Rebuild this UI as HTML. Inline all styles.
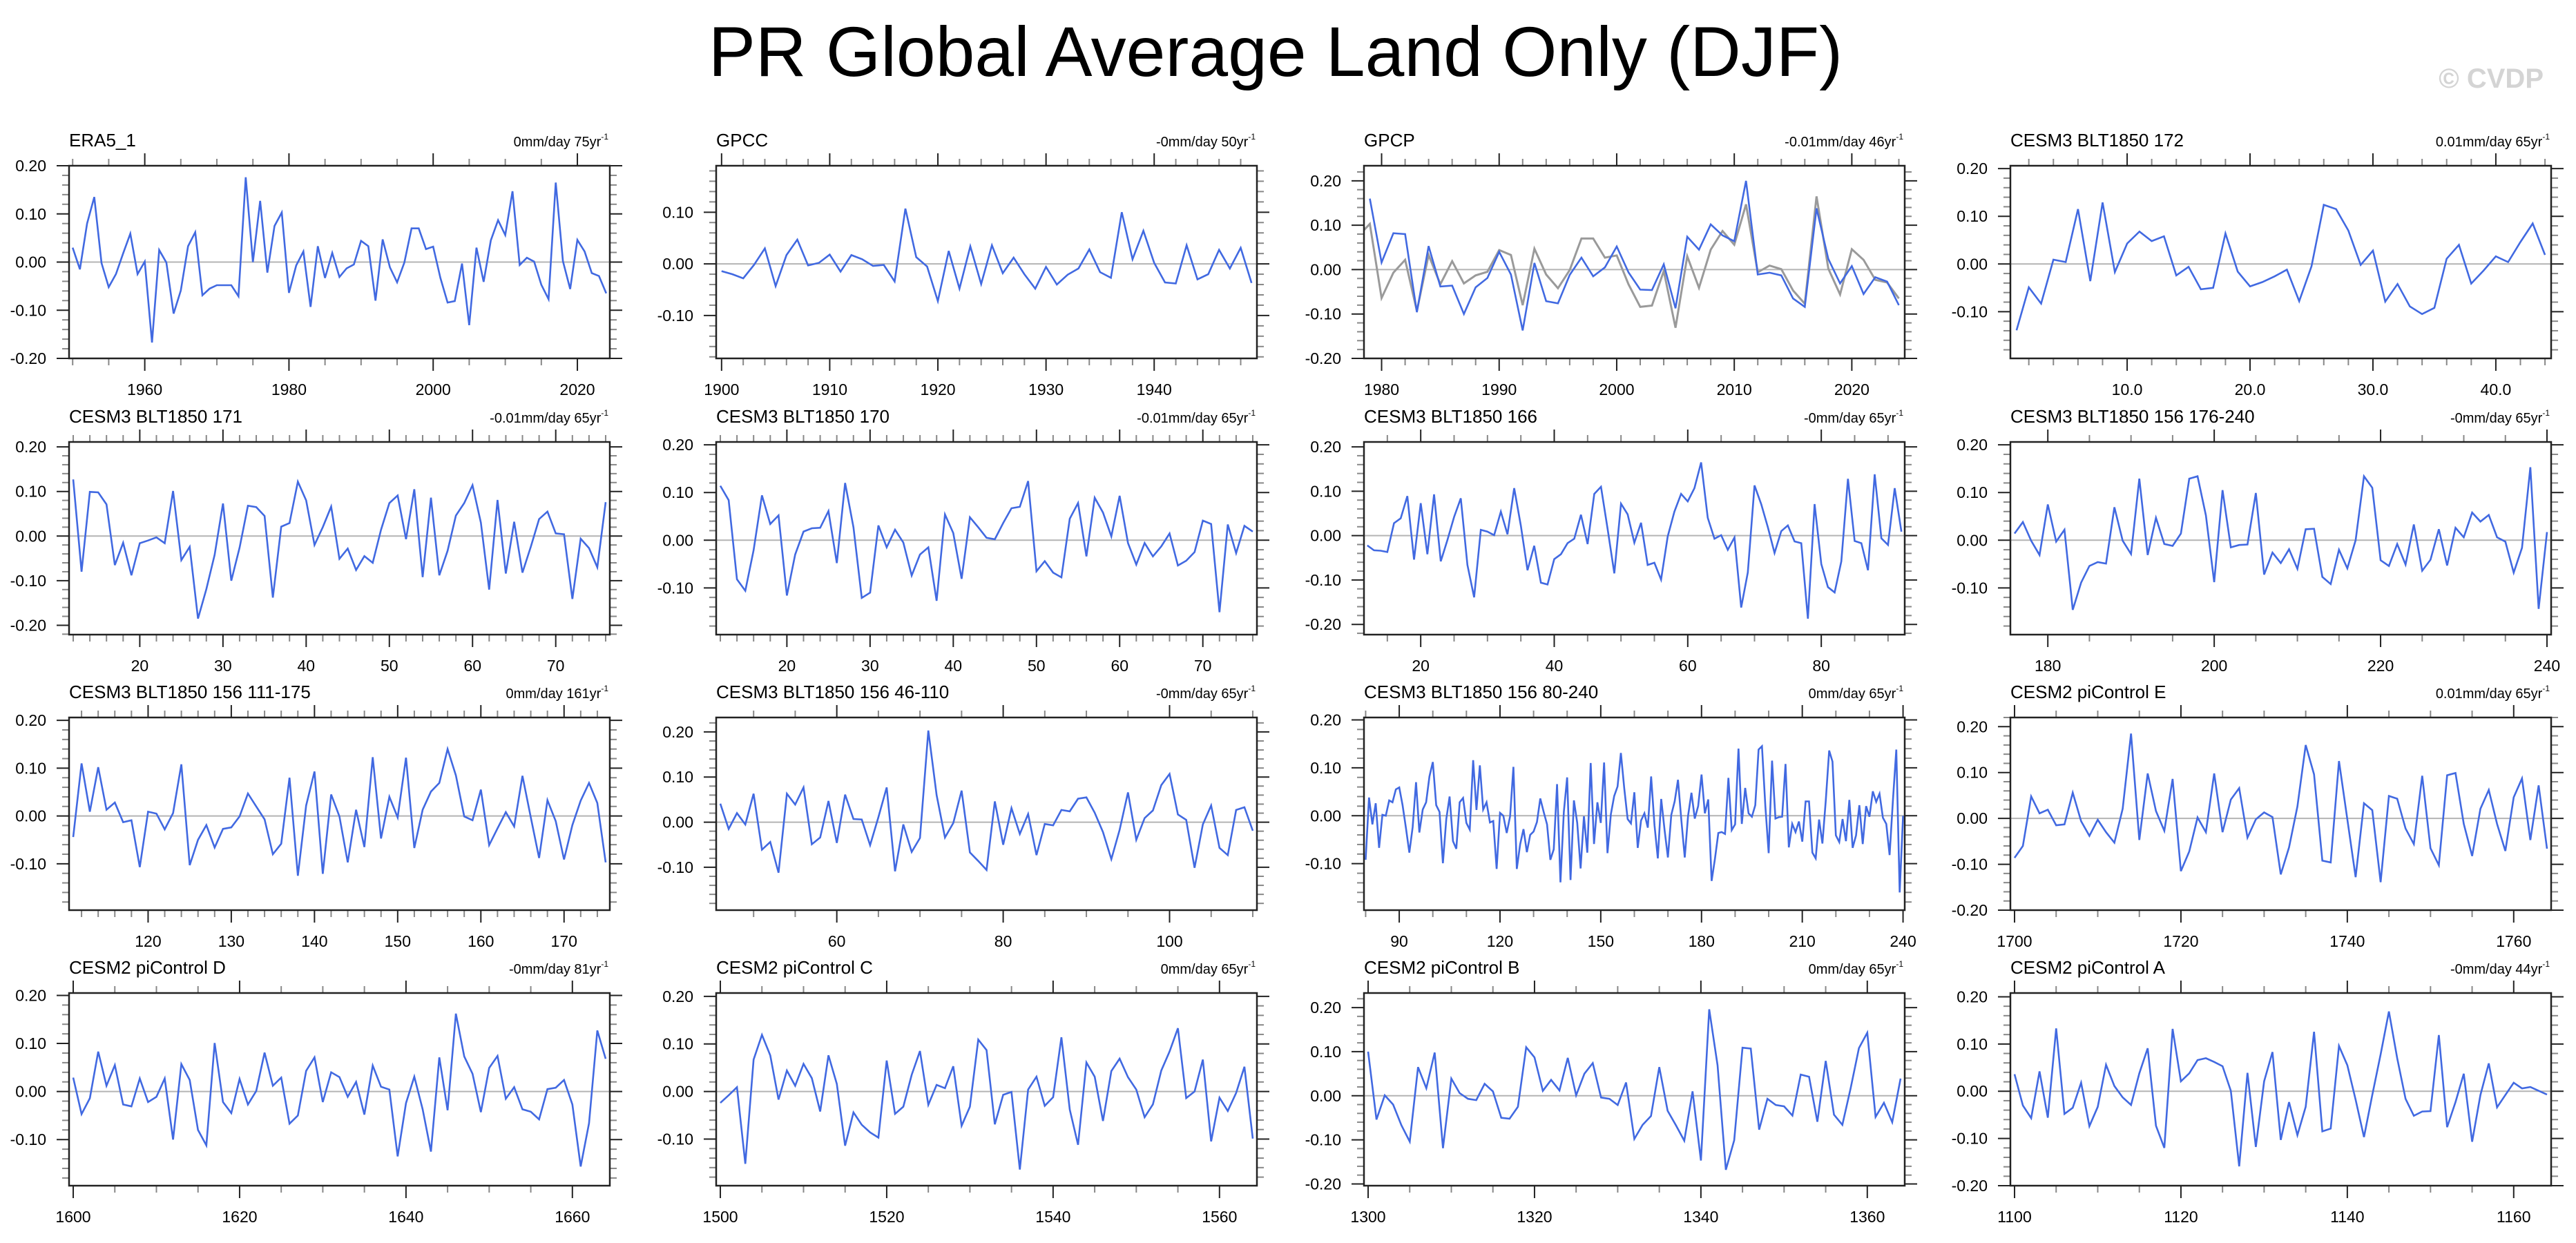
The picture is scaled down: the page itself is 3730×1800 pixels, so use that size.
<!DOCTYPE html>
<html><head><meta charset="utf-8"><title>PR Global Average Land Only (DJF)</title>
<style>
html,body{margin:0;padding:0;background:#fff;}
svg{display:block;font-family:"Liberation Sans",Arial,sans-serif;}
</style></head>
<body>
<svg id="chart" xmlns="http://www.w3.org/2000/svg" width="3730" height="1800" viewBox="0 0 3730 1800">
<rect x="0" y="0" width="3730" height="1800" fill="#fff"/>
<text x="1847" y="110" font-size="102" text-anchor="middle" fill="#000">PR Global Average Land Only (DJF)</text>
<text x="3683" y="127" font-size="40" font-weight="bold" text-anchor="end" fill="#d4d4d4">© CVDP</text>
<g id="panels"></g>
</svg>
<script>
// ---- data ----
const era5Start = 1950;
const era5Values = [0.03,-0.015,0.08,0.135,-0.002,-0.052,-0.025,0.018,0.059,-0.025,0.001,-0.167,0.025,-0.001,-0.107,-0.059,0.033,0.062,-0.069,-0.055,-0.048,-0.048,-0.048,-0.071,0.176,0,0.127,-0.022,0.075,0.103,-0.064,-0.007,0.022,-0.093,0.033,-0.033,0.019,-0.031,-0.013,-0.005,0.044,0.033,-0.08,0.047,-0.011,-0.042,-0.001,0.07,0.07,0.027,0.032,-0.033,-0.084,-0.081,-0.003,-0.131,0.03,-0.041,0.045,0.087,0.056,0.147,-0.006,0.009,0.001,-0.047,-0.077,0.165,0.002,-0.056,0.046,0.022,-0.023,-0.029,-0.065];
const gpccStart = 1900;
const gpccValues = [-0.014,-0.02,-0.028,-0.002,0.03,-0.043,0.017,0.047,-0.003,0.002,0.018,-0.015,0.017,0.009,-0.004,-0.002,-0.034,0.107,0.013,-0.005,-0.072,0.025,-0.048,0.034,-0.039,0.036,-0.018,0.012,-0.02,-0.048,-0.006,-0.04,-0.021,-0.009,0.028,-0.016,-0.027,0.1,0.009,0.064,0.002,-0.036,-0.038,0.036,-0.03,-0.02,0.027,-0.009,0.031,-0.037];
const gpcpStart = 1979;
const gpcpValues = [0.16,0.016,0.082,0.08,-0.096,0.053,-0.038,-0.036,-0.1,-0.04,-0.019,0.04,-0.011,-0.137,0.015,-0.071,-0.076,-0.012,0.027,-0.015,0.005,0.052,-0.006,-0.045,-0.046,0.012,-0.087,0.074,0.045,0.102,0.077,0.064,0.2,-0.011,-0.007,-0.013,-0.065,-0.084,0.138,0.024,-0.031,0.008,-0.055,-0.017,-0.027,-0.08];
const c172Start = 1;
const c172Values = [-0.139,-0.049,-0.083,0.009,0.004,0.115,-0.036,0.129,-0.017,0.043,0.068,0.048,0.058,-0.024,-0.006,-0.053,-0.05,0.064,-0.016,-0.047,-0.038,-0.026,-0.012,-0.078,-0.005,0.124,0.115,0.07,-0.002,0.028,-0.079,-0.042,-0.089,-0.105,-0.092,0.011,0.04,-0.041,-0.014,0.016,0.004,0.046,0.085,0.019];
const c171Start = 12;
const c171Values = [0.127,-0.08,0.099,0.098,0.071,-0.065,-0.015,-0.088,-0.016,-0.01,-0.003,-0.016,0.101,-0.054,-0.024,-0.185,-0.119,-0.042,0.073,-0.1,-0.026,0.068,0.065,0.045,-0.138,0.021,0.029,0.122,0.08,-0.02,0.02,0.066,-0.051,-0.028,-0.076,-0.045,-0.06,0.014,0.074,0.091,-0.007,0.105,-0.092,0.086,-0.088,-0.033,0.046,0.074,0.114,0.03,-0.12,0.081,-0.084,0.032,-0.082,-0.024,0.038,0.055,0.006,0.004,-0.141,-0.006,-0.027,-0.07,0.076];
const c170Start = 12;
const c170Values = [0.114,0.084,-0.082,-0.106,-0.021,0.094,0.034,0.052,-0.116,-0.03,0.018,0.025,0.026,0.061,-0.048,0.12,0.027,-0.121,-0.11,0.031,-0.015,0.022,-0.005,-0.074,-0.03,-0.015,-0.127,0.054,0.015,-0.081,0.048,0.027,0.005,0.002,0.036,0.067,0.07,0.124,-0.065,-0.044,-0.068,-0.078,0.045,0.078,-0.034,0.089,0.058,0.008,0.093,-0.006,-0.051,-0.006,-0.034,-0.013,0.014,-0.053,-0.043,-0.025,0.041,0.034,-0.151,0.033,-0.027,0.03,0.018];
const c166Start = 12;
const c166Values = [-0.022,-0.033,-0.034,-0.037,0.028,0.039,0.089,-0.054,0.073,-0.042,0.093,-0.058,-0.01,0.042,0.084,-0.066,-0.139,0.013,0.009,0.001,0.054,0.003,0.107,0.022,-0.078,-0.023,-0.106,-0.11,-0.053,-0.042,-0.017,-0.007,0.047,-0.019,0.094,0.11,0.015,-0.085,0.072,0.048,-0.016,0.029,-0.066,-0.061,-0.099,-0.002,0.054,0.094,0.077,0.107,0.165,0.04,-0.007,0.001,-0.032,-0.004,-0.162,-0.083,0.113,0.071,0.019,-0.039,0.01,0.023,-0.013,-0.017,-0.187,0.071,-0.064,-0.116,-0.128,-0.058,0.128,-0.012,-0.017,-0.078,0.138,-0.006,-0.021,0.107,0.009];
const c156aStart = 176;
const c156aValues = [0.014,0.038,-0.001,-0.031,0.075,-0.003,0.022,-0.146,-0.089,-0.054,-0.046,-0.049,0.069,-0.001,-0.029,0.129,-0.031,0.047,-0.008,-0.012,0.014,0.129,0.134,0.052,-0.088,0.105,-0.015,-0.01,-0.009,0.099,-0.072,-0.026,-0.048,-0.019,-0.06,0.023,0.024,-0.077,-0.092,-0.02,-0.059,0,0.134,0.11,-0.042,-0.054,-0.008,-0.051,0.033,-0.064,-0.041,0.023,-0.053,0.026,0.006,0.058,0.039,0.053,0.006,-0.003,-0.068,-0.016,0.153,-0.144,0.017];
const c156bStart = 111;
const c156bValues = [-0.044,0.11,0.009,0.102,0.013,0.028,-0.013,-0.009,-0.107,0.009,0.005,-0.028,0.006,0.108,-0.103,-0.05,-0.019,-0.066,-0.027,-0.024,-0.001,0.047,0.02,-0.007,-0.08,-0.058,0.08,-0.125,0.022,0.093,-0.121,0.045,-0.001,-0.097,0.013,-0.065,0.123,-0.047,0.04,-0.003,0.122,-0.067,0.013,0.051,0.069,0.14,0.085,-0.001,-0.009,0.055,-0.061,-0.026,0.008,-0.022,0.084,-0.003,-0.088,0.033,-0.011,-0.091,-0.019,0.032,0.069,0.027,-0.097];
const c156cStart = 46;
const c156cValues = [0.041,-0.015,0.02,-0.005,0.063,-0.061,-0.044,-0.112,0.063,0.039,0.077,-0.049,-0.034,0.047,-0.046,0.061,0.007,0.006,-0.051,0.011,0.077,-0.109,-0.005,-0.066,-0.035,0.203,0.06,-0.034,-0.002,0.07,-0.067,-0.086,-0.106,0.046,-0.05,0.031,-0.026,0.018,-0.073,-0.004,-0.007,0.027,0.024,0.052,0.055,0.021,-0.022,-0.082,-0.017,0.066,-0.039,0.009,0.026,0.082,0.107,0.017,0.005,-0.101,-0.005,0.037,-0.057,-0.073,0.027,0.033,-0.019];
const c156dStart = 80;
const c156dValues = [-0.092,0.038,-0.018,0.026,-0.067,0.002,0,0.032,0.028,0.055,0.059,0.022,-0.026,-0.077,-0.024,0.07,-0.035,0.013,0.028,0.082,0.112,0.022,0.008,-0.099,-0.007,0.04,-0.053,-0.069,0.028,0.037,-0.015,-0.029,0.116,0.012,0.105,0.013,0.028,-0.014,-0.011,-0.111,0.006,0,-0.036,-0.001,0.102,-0.111,-0.06,-0.028,-0.076,-0.04,-0.033,-0.013,0.036,0.008,-0.018,-0.092,-0.07,0.066,-0.139,0.008,0.08,-0.134,0.032,-0.015,-0.11,-0.001,-0.077,0.11,-0.059,0.028,-0.015,0.111,-0.078,0.003,0.041,0.061,0.131,0.057,-0.007,-0.016,0.049,
 -0.067,-0.01,0.005,-0.025,0.082,-0.02,-0.089,0.035,-0.03,-0.087,0.002,0.03,0.075,-0.01,-0.087,0.0,0.048,-0.006,0.02,0.086,0.005,0.034,-0.136,-0.09,-0.036,-0.034,-0.038,0.079,-0.03,-0.018,0.14,-0.017,0.058,0.005,-0.002,0.022,0.138,0.145,0.02,-0.078,0.115,-0.006,-0.003,-0.002,0.108,-0.066,-0.017,-0.034,-0.012,-0.054,0.03,0.03,-0.077,-0.089,-0.008,-0.058,0.032,0.136,0.113,-0.041,-0.055,-0.007,-0.053,0.033,-0.067,-0.041,0.022,-0.059,0.02,-0.002,0.051,0.029,0.046,-0.004,-0.017,-0.082,0.034,0.138,-0.16,0.0];
const pcEStart = 1700;
const pcEValues = [-0.086,-0.06,0.048,0.011,0.019,-0.015,-0.013,0.056,-0.006,-0.038,-0.003,-0.03,-0.053,0.021,0.185,-0.047,0.098,0.016,-0.027,0.086,-0.115,-0.072,0.002,-0.03,0.098,-0.03,0.041,0.066,-0.042,-0.002,0.013,0.003,-0.122,-0.063,0.026,0.16,0.096,-0.092,-0.096,0.125,-0.002,-0.128,0.033,0.018,-0.139,0.049,0.043,-0.022,-0.056,0.093,-0.065,-0.102,0.094,0.099,-0.012,-0.082,0.021,0.062,-0.012,-0.071,0.046,0.087,-0.047,0.072,-0.066];
const pcDStart = 1600;
const pcDValues = [0.029,-0.047,-0.014,0.083,0.012,0.055,-0.027,-0.031,0.027,-0.022,-0.011,0.027,-0.1,0.057,0.024,-0.08,-0.112,0.101,-0.022,-0.045,0.026,-0.027,0.001,0.081,0.012,0.029,-0.067,-0.05,0.043,0.071,-0.022,0.04,0.03,-0.011,0.02,-0.048,0.054,0.01,0.004,-0.135,-0.024,0.031,-0.037,-0.125,0.071,-0.039,0.162,0.073,0.037,-0.043,0.049,0.074,-0.015,0.009,-0.037,-0.042,-0.058,0.005,0.008,0.024,-0.027,-0.156,-0.066,0.127,0.068];
const pcCStart = 1500;
const pcCValues = [-0.024,-0.008,0.009,-0.152,0.067,0.119,0.076,-0.017,0.044,0.012,0.058,0.028,-0.042,0.076,0.016,-0.114,-0.044,-0.07,-0.086,-0.097,0.065,-0.047,-0.032,0.035,0.085,-0.028,0.014,0.007,0.053,-0.072,-0.032,0.109,0.087,-0.069,-0.007,-0.001,-0.164,0.004,0.031,-0.03,-0.012,0.114,-0.038,-0.112,0.061,0.031,-0.062,0.043,0.069,0.03,0.004,-0.054,-0.027,0.044,0.084,0.133,-0.014,0,0.067,-0.105,-0.013,-0.041,-0.003,0.052,-0.099];
const pcBStart = 1300;
const pcBValues = [0.1,-0.054,0.001,-0.02,-0.067,-0.104,0.065,0.017,0.098,-0.119,0.039,0.006,-0.007,-0.01,0.027,0.01,-0.05,-0.052,-0.025,0.11,0.087,0.011,0.036,0.012,0.086,0.001,0.05,0.074,-0.004,-0.007,-0.021,0.03,-0.098,-0.066,-0.046,0.065,-0.034,-0.067,-0.102,0.01,-0.147,0.196,0.069,-0.168,-0.101,0.109,0.107,-0.077,-0.007,-0.021,-0.024,-0.045,0.048,0.043,-0.059,0.079,-0.043,-0.066,0.017,0.108,0.143,-0.048,-0.016,-0.06,0.039];
const pcAStart = 1100;
const pcAValues = [0.036,-0.03,-0.057,0.042,-0.056,0.133,-0.048,-0.035,0.018,-0.074,-0.033,0.056,0.011,-0.013,-0.029,0.038,0.091,-0.073,-0.12,0.132,0.021,0.038,0.066,0.07,0.062,0.053,0.001,-0.159,0.039,-0.118,0.021,0.083,-0.103,-0.023,-0.093,-0.033,0.126,-0.085,-0.079,0.096,0.055,-0.018,-0.097,-0.008,0.078,0.169,0.07,-0.016,-0.052,-0.043,-0.042,0.119,-0.076,-0.023,0.037,-0.107,-0.008,0.059,-0.034,-0.008,0.018,0.006,0.009,0.001,-0.007];

// panel titles / subtitles / axis info
const panelTitles = ["ERA5_1","GPCC","GPCP","CESM3 BLT1850 172","CESM3 BLT1850 171","CESM3 BLT1850 170","CESM3 BLT1850 166","CESM3 BLT1850 156 176-240","CESM3 BLT1850 156 111-175","CESM3 BLT1850 156 46-110","CESM3 BLT1850 156 80-240","CESM2 piControl E","CESM2 piControl D","CESM2 piControl C","CESM2 piControl B","CESM2 piControl A"];
const trendLabels = ["0mm/day 75yr","-0mm/day 50yr","-0.01mm/day 46yr","0.01mm/day 65yr","-0.01mm/day 65yr","-0.01mm/day 65yr","-0mm/day 65yr","-0mm/day 65yr","0mm/day 161yr","-0mm/day 65yr","0mm/day 65yr","0.01mm/day 65yr","-0mm/day 81yr","0mm/day 65yr","0mm/day 65yr","-0mm/day 44yr"];
const seriesStarts = [era5Start,gpccStart,gpcpStart,c172Start,c171Start,c170Start,c166Start,c156aStart,c156bStart,c156cStart,c156dStart,pcEStart,pcDStart,pcCStart,pcBStart,pcAStart];
const seriesValues = [era5Values,gpccValues,gpcpValues,c172Values,c171Values,c170Values,c166Values,c156aValues,c156bValues,c156cValues,c156dValues,pcEValues,pcDValues,pcCValues,pcBValues,pcAValues];
const yMins = [-0.2,-0.183,-0.2,-0.198,-0.221,-0.198,-0.223,-0.198,-0.197,-0.195,-0.197,-0.2,-0.196,-0.198,-0.204,-0.2];
const yMaxs = [0.2,0.19,0.234,0.206,0.211,0.206,0.211,0.206,0.206,0.232,0.205,0.22,0.205,0.207,0.233,0.208];
const xMajorSteps = [20,10,10,10,10,10,20,20,10,20,30,20,20,20,20,20];
const xMinorSteps = [5,2,2,2,2,2,5,5,2,5,10,5,5,5,5,5];
const xLabelDecimals = [0,0,0,1,0,0,0,0,0,0,0,0,0,0,0,0];

// ---- layout ----
const NS = "http://www.w3.org/2000/svg";
const colX = [100,1037,1975,2911];
const rowY = [240,640,1039,1438];
const BW = 783, BH = 279;
const BLUE = "#4169e1";
const root = document.getElementById("panels");

function el(tag, attrs, parent){
  const e = document.createElementNS(NS, tag);
  for (const k in attrs) e.setAttribute(k, attrs[k]);
  parent.appendChild(e);
  return e;
}

function drawPanel(i){
  const col = i % 4, row = Math.floor(i / 4);
  const x0 = colX[col], y0 = rowY[row];
  const vals = seriesValues[i], start = seriesStarts[i];
  const xmin = start - 0.5, xmax = start + vals.length - 1 + 0.5;
  const ymin = yMins[i], ymax = yMaxs[i];
  const sx = v => x0 + (v - xmin) / (xmax - xmin) * BW;
  const sy = v => y0 + (ymax - v) / (ymax - ymin) * BH;

  const g = el("g", {}, root);
  
  

  const clipId = "clip" + i;
  const cp = el("clipPath", {id: clipId}, g);
  el("rect", {x: x0, y: y0, width: BW, height: BH}, cp);

  // y ticks
  const yt = el("g", {stroke: "#333", "stroke-width": 2}, g);
  
  
  for (let k = Math.ceil(ymin / 0.02 - 1e-6); k * 0.02 <= ymax + 1e-9; k++) {
    const v = k * 0.02, y = sy(v);
    const major = (k % 5 === 0);
    const len = major ? 18 : 10;
    el("line", {x1: x0 - len, y1: y, x2: x0, y2: y, stroke: major ? "#222" : "#888"}, yt);
    el("line", {x1: x0 + BW, y1: y, x2: x0 + BW + len, y2: y, stroke: major ? "#222" : "#888"}, yt);
    if (major) {
      const t = el("text", {x: x0 - 33, y: y + 8, "font-size": 23, "text-anchor": "end", fill: "#000"}, g);
      
      
      t.textContent = (Math.abs(v) < 1e-9 ? 0 : v).toFixed(2);
    }
  }
  // x ticks
  const xt = el("g", {"stroke-width": 2}, g);
  
  
  const ms = xMinorSteps[i], Ms = xMajorSteps[i];
  for (let v = Math.ceil(xmin / ms) * ms; v <= xmax; v += ms) {
    const x = sx(v);
    const major = (Math.round(v) % Ms === 0);
    const len = major ? 18 : 10;
    el("line", {x1: x, y1: y0 - len, x2: x, y2: y0, stroke: major ? "#222" : "#888"}, xt);
    el("line", {x1: x, y1: y0 + BH, x2: x, y2: y0 + BH + len, stroke: major ? "#222" : "#888"}, xt);
    if (major) {
      const t = el("text", {x: x, y: y0 + BH + 53, "font-size": 23, "text-anchor": "middle", fill: "#000"}, g);
      
      
      t.textContent = v.toFixed(xLabelDecimals[i]);
    }
  }
  // zero line
  const z = el("line", {x1: x0, y1: sy(0), x2: x0 + BW, y2: sy(0), stroke: "#b4b4b4", "stroke-width": 2}, g);
  
  

  // overlay (ERA5 in GPCP panel)
  if (i === 2) {
    const pts = era5Values.map((v, k) => sx(era5Start + k).toFixed(1) + "," + sy(v).toFixed(1)).join(" ");
    const ov = el("polyline", {points: pts, fill: "none", stroke: "#9a9a9a", "stroke-width": 3, "clip-path": "url(#" + clipId + ")"}, g);
    
    
  }
  // series
  const pts = vals.map((v, k) => sx(start + k).toFixed(1) + "," + sy(v).toFixed(1)).join(" ");
  const pl = el("polyline", {points: pts, fill: "none", stroke: BLUE, "stroke-width": 2.6, "stroke-linejoin": "miter", "clip-path": "url(#" + clipId + ")"}, g);
  
  

  // frame
  const fr = el("rect", {x: x0, y: y0, width: BW, height: BH, fill: "none", stroke: "#222", "stroke-width": 2.5}, g);
  
  

  // titles
  const tt = el("text", {x: x0, y: y0 - 28, "font-size": 26, fill: "#000"}, g);
  
  
  tt.textContent = panelTitles[i];

  const st = el("text", {x: x0 + BW - 2, y: y0 - 28, "font-size": 20, "text-anchor": "end", fill: "#000"}, g);
  
  
  st.appendChild(document.createTextNode(trendLabels[i]));
  const sup = el("tspan", {"font-size": 12, dy: -10}, st);
  
  
  sup.textContent = "-1";
}

for (let i = 0; i < 16; i++) drawPanel(i);
</script>
</body></html>
